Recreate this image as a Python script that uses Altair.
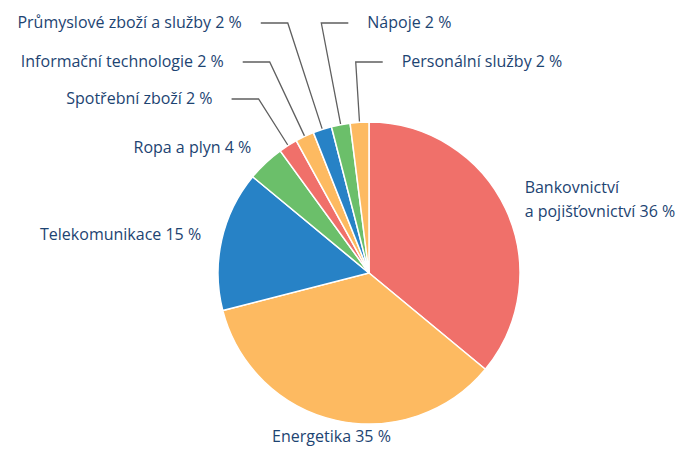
import math
import numpy as np
import pandas as pd
import altair as alt

# ---- data -------------------------------------------------------------
categories = [
    "Bankovnictví a pojišťovnictví",
    "Energetika",
    "Telekomunikace",
    "Ropa a plyn",
    "Spotřební zboží",
    "Informační technologie",
    "Průmyslové zboží a služby",
    "Nápoje",
    "Personální služby",
]
values = [36, 35, 15, 4, 2, 2, 2, 2, 2]
label_texts = [
    "Bankovnictví\na pojišťovnictví 36 %",
    "Energetika 35 %",
    "Telekomunikace 15 %",
    "Ropa a plyn 4 %",
    "Spotřební zboží 2 %",
    "Informační technologie 2 %",
    "Průmyslové zboží a služby 2 %",
    "Nápoje 2 %",
    "Personální služby 2 %",
]
colors = ["#F0706A", "#FDBA61", "#2782C6", "#6BBF6A",
          "#F0706A", "#FDBA61", "#2782C6", "#6BBF6A", "#FDBA61"]

# ---- layout constants ---------------------------------------------------
W, H = 669, 439
CX, CY, R = 361, 265, 151
LABEL_R = 172
LINE_H = 24
ROW_Y = [15, 54, 91]            # label rows for the small slices
# slice index -> (row, side)   side -1 = label on left, +1 = label on right
small_row = {4: (2, -1), 5: (1, -1), 6: (0, -1), 7: (0, 1), 8: (1, 1)}
ARM = 27                         # horizontal leader length
GAP = 19                         # gap between leader and text
FONT = "Open Sans"
FONT_SIZE = 16
TEXT_COLOR = "#1D4472"

total = float(sum(values))
cum = np.cumsum(values)
mid = (cum - np.array(values) / 2.0) / total * 2 * math.pi

pie_df = pd.DataFrame({"category": categories, "value": values,
                       "order": list(range(len(values)))})

line_rows = []
text_rows = []
for i, (cat, txt) in enumerate(zip(categories, label_texts)):
    a = mid[i]
    s, c = math.sin(a), math.cos(a)
    if i in small_row:
        row, side = small_row[i]
        ry = ROW_Y[row]
        re = (CY - ry) / c
        ex, ey = CX + re * s, ry
        hx = ex + side * ARM
        line_rows += [
            {"key": cat, "o": 0, "x": CX + R * s, "y": CY - R * c},
            {"key": cat, "o": 1, "x": ex, "y": ey},
            {"key": cat, "o": 2, "x": hx, "y": ey},
        ]
        text_rows.append({"text": txt, "x": hx + side * GAP, "y": ey,
                          "align": "right" if side < 0 else "left"})
    else:
        x, y = CX + LABEL_R * s, CY - LABEL_R * c
        y = min(y, H - 10)       # keep the bottom label inside the page
        if abs(s) < 0.35:
            al = "center"
        elif s < 0:
            al = "right"
        else:
            al = "left"
        parts = txt.split("\n")
        n = len(parts)
        for k, p in enumerate(parts):
            text_rows.append({"text": p, "x": x,
                              "y": y + (k - (n - 1) / 2.0) * LINE_H,
                              "align": al})

lines_df = pd.DataFrame(line_rows)
text_df = pd.DataFrame(text_rows)

pie = alt.Chart(pie_df).mark_arc(
    outerRadius=R, stroke="white", strokeWidth=1.5
).encode(
    theta=alt.Theta("value:Q", stack=True),
    order=alt.Order("order:Q"),
    color=alt.Color("category:N", scale=alt.Scale(domain=categories, range=colors),
                    legend=None),
    x=alt.value(CX),
    y=alt.value(CY),
)

leaders = alt.Chart(lines_df).mark_line(
    color="#5F5F5F", strokeWidth=1.3
).encode(
    x=alt.X("x:Q", scale=None, axis=None),
    y=alt.Y("y:Q", scale=None, axis=None),
    detail="key:N",
    order="o:Q",
)

def text_layer(al):
    return alt.Chart(text_df).transform_filter(
        alt.datum.align == al
    ).mark_text(
        font=FONT, fontSize=FONT_SIZE, color=TEXT_COLOR, align=al,
        baseline="middle"
    ).encode(
        x=alt.X("x:Q", scale=None, axis=None),
        y=alt.Y("y:Q", scale=None, axis=None),
        text="text:N",
    )

chart = alt.layer(
    leaders, pie, text_layer("left"), text_layer("right"), text_layer("center")
).properties(
    width=W, height=H, autosize="none", padding=0
).configure_view(stroke=None)

chart.save("out.html", embed_options={"renderer": "svg", "actions": False})
